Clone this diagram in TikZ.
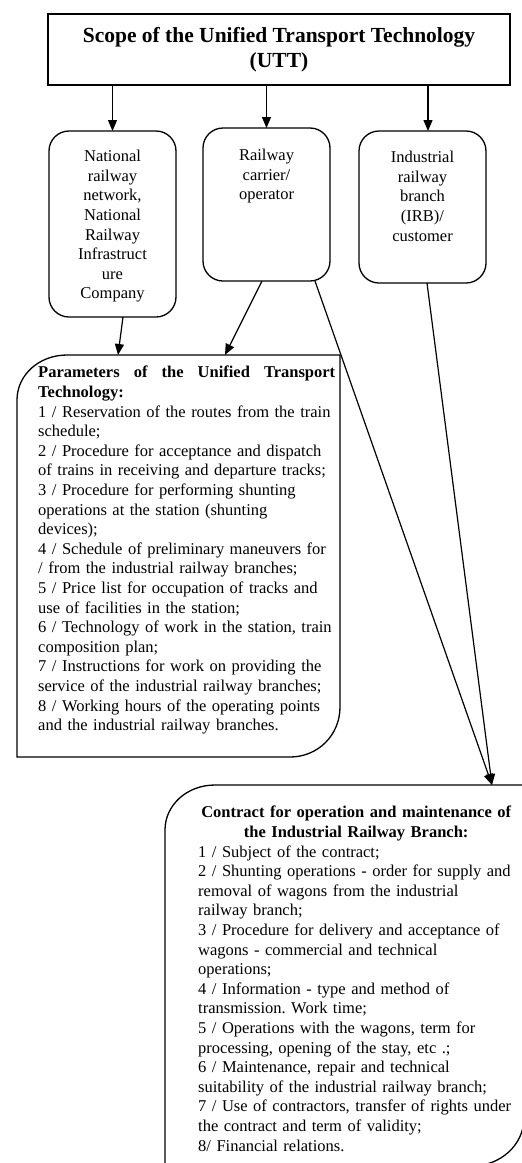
\documentclass[tikz,border=0pt]{standalone}
\usepackage{fontspec}
\setmainfont{Liberation Serif}
\usetikzlibrary{arrows.meta}
\frenchspacing
\begin{document}
\begin{tikzpicture}[x=1pt,y=-1pt,
  box/.style={draw=black, line width=1.3pt},
  holder/.style={inner sep=0pt, outer sep=0pt},
  link/.style={line width=1.2pt, -{Triangle[length=11pt,width=9pt]}},
  body/.style={inner sep=0pt, font=\fontsize{16.5}{19.6}\selectfont},
  ]
\useasboundingbox (0,0) rectangle (522,1163);
\clip (0,0) rectangle (522,1163);

% heading box
\node[box, holder, minimum width=462pt, minimum height=71pt, align=center,
      font=\fontsize{21.5}{25}\selectfont\bfseries] (T) at (279,49.5)
  {Scope of the Unified Transport Technology\\(UTT)};

% the three participants
\node[box, holder, rounded corners=20pt, minimum width=127pt, minimum height=186pt] (A) at (112.5,224) {};
\node[box, holder, rounded corners=20pt, minimum width=127pt, minimum height=153pt] (B) at (266.5,204.5) {};
\node[box, holder, rounded corners=20pt, minimum width=127pt, minimum height=152pt] (C) at (422.5,207) {};

\node[body, anchor=north, align=center] (Atxt) at ([yshift=-19pt]A.north)
  {National\\railway\\network,\\National\\Railway\\Infrastruct\\ure\\Company};
\node[body, anchor=north, align=center] (Btxt) at ([yshift=-21pt]B.north)
  {Railway\\carrier/\\operator};
\node[body, anchor=north, align=center] (Ctxt) at ([yshift=-20pt]C.north)
  {Industrial\\railway\\branch\\(IRB)/\\customer};

% parameters box: rounded top-left and bottom-right corners
\node[holder, minimum width=323pt, minimum height=402pt] (P) at (178.5,556) {};
\draw[box] (P.south west) -- ([shift={(0,45)}]P.north west)
  .. controls ([shift={(0,20)}]P.north west) and ([shift={(22,0)}]P.north west) .. ([shift={(50,0)}]P.north west)
  -- (P.north east) -- ([shift={(0,-50)}]P.south east)
  .. controls ([shift={(0,-22)}]P.south east) and ([shift={(-22,0)}]P.south east) .. ([shift={(-50,0)}]P.south east)
  -- cycle;
\node[body, anchor=north west, text width=330pt, align=left] (Ptxt) at ([shift={(21,11)}]P.north west)
  {\hbox to 297pt{\bfseries Parameters\hfill of\hfill the\hfill Unified\hfill Transport}\\
   \textbf{Technology:}\\
   1 / Reservation of the routes from the train\\
   schedule;\\
   2 / Procedure for acceptance and dispatch\\
   of trains in receiving and departure tracks;\\
   3 / Procedure for performing shunting\\
   operations at the station (shunting\\
   devices);\\
   4 / Schedule of preliminary maneuvers for\\
   / from the industrial railway branches;\\
   5 / Price list for occupation of tracks and\\
   use of facilities in the station;\\
   6 / Technology of work in the station, train\\
   composition plan;\\
   7 / Instructions for work on providing the\\
   service of the industrial railway branches;\\
   8 / Working hours of the operating points\\
   and the industrial railway branches.};

% contract box: rounded top-left and bottom-right corners
\node[holder, minimum width=359pt, minimum height=381pt] (K) at (344.5,975.5) {};
\draw[box] (K.south west) -- ([shift={(0,45)}]K.north west)
  .. controls ([shift={(0,20)}]K.north west) and ([shift={(22,0)}]K.north west) .. ([shift={(50,0)}]K.north west)
  -- (K.north east) -- ([shift={(0,-48)}]K.south east)
  .. controls ([shift={(0,-21.5)}]K.south east) and ([shift={(-23.3,0)}]K.south east) .. ([shift={(-52,0)}]K.south east)
  -- cycle;
\node[body, anchor=north west, text width=330pt, align=left] (Ktxt) at ([shift={(33,21)}]K.north west)
  {\makebox[316pt][c]{\bfseries Contract for operation and maintenance of}\\
   \makebox[316pt][c]{\bfseries the Industrial Railway Branch:}\\
   1 / Subject of the contract;\\
   2 / Shunting operations - order for supply and\\
   removal of wagons from the industrial\\
   railway branch;\\
   3 / Procedure for delivery and acceptance of\\
   wagons - commercial and technical\\
   operations;\\
   4 / Information - type and method of\\
   transmission. Work time;\\
   5 / Operations with the wagons, term for\\
   processing, opening of the stay, etc .;\\
   6 / Maintenance, repair and technical\\
   suitability of the industrial railway branch;\\
   7 / Use of contractors, transfer of rights under\\
   the contract and term of validity;\\
   8/ Financial relations.};

% connectors
\draw[link] (A.north |- T.south) -- (A.north);
\draw[link] (B.north |- T.south) -- (B.north);
\draw[link] ([xshift=5.5pt]C.north |- T.south) -- ([xshift=5.5pt]C.north);
\draw[link] ([xshift=10.5pt]A.south) -- ([xshift=101pt]P.north west);
\draw[link] ([xshift=-4.5pt]B.south) -- ([xshift=208pt]P.north west);
\draw[link] ([xshift=-15pt]B.south east) -- ([xshift=327pt]K.north west);
\draw[link] ([xshift=4.5pt]C.south) -- ([xshift=327pt]K.north west);
\end{tikzpicture}
\end{document}
